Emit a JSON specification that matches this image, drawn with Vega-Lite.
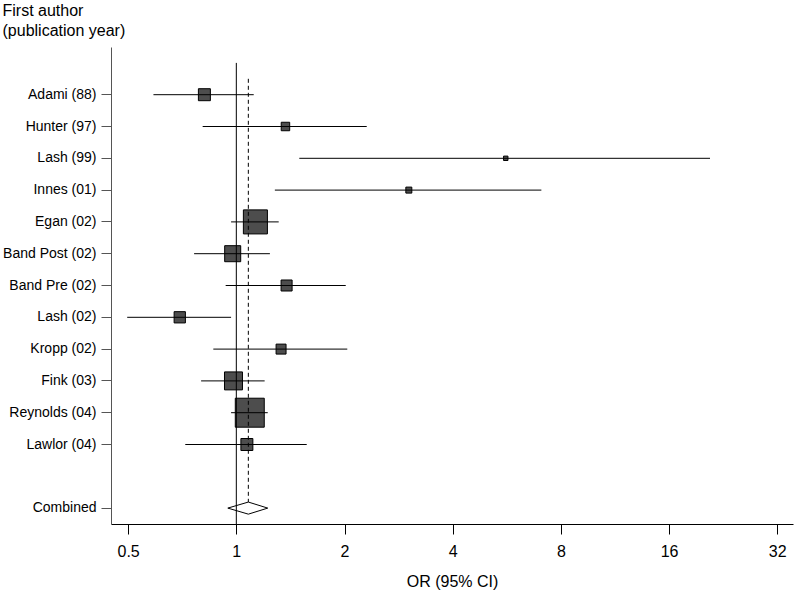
{
  "$schema": "https://vega.github.io/schema/vega-lite/v6.json",
  "width": 682,
  "height": 477,
  "autosize": {"type": "none"},
  "padding": {"left": 111, "top": 47, "right": 2, "bottom": 68},
  "background": "white",
  "config": {
    "view": {"stroke": null},
    "font": "Liberation Sans",
    "axis": {"grid": false, "labelColor": "black", "titleColor": "black", "titleFontWeight": "normal"}
  },
  "datasets": {
    "studies": [
      {"label": "Adami (88)", "or": 0.815, "lo": 0.588, "hi": 1.118, "weight": 5.2},
      {"label": "Hunter (97)", "or": 1.37, "lo": 0.806, "hi": 2.306, "weight": 2.6},
      {"label": "Lash (99)", "or": 5.62, "lo": 1.497, "hi": 20.8, "weight": 0.7},
      {"label": "Innes (01)", "or": 3.02, "lo": 1.28, "hi": 7.06, "weight": 1.3},
      {"label": "Egan (02)", "or": 1.13, "lo": 0.967, "hi": 1.312, "weight": 20.9},
      {"label": "Band Post (02)", "or": 0.977, "lo": 0.763, "hi": 1.24, "weight": 9.3},
      {"label": "Band Pre (02)", "or": 1.38, "lo": 0.934, "hi": 2.016, "weight": 4.4},
      {"label": "Lash (02)", "or": 0.696, "lo": 0.497, "hi": 0.967, "weight": 4.6},
      {"label": "Kropp (02)", "or": 1.332, "lo": 0.863, "hi": 2.036, "weight": 3.6},
      {"label": "Fink (03)", "or": 0.982, "lo": 0.798, "hi": 1.199, "weight": 11.7},
      {"label": "Reynolds (04)", "or": 1.09, "lo": 0.967, "hi": 1.223, "weight": 30.4},
      {"label": "Lawlor (04)", "or": 1.07, "lo": 0.721, "hi": 1.57, "weight": 5.2}
    ],
    "pooled": [
      {"label": "Combined", "tip": 0.947, "mid": 1.08},
      {"label": "Combined", "tip": 1.223, "mid": 1.08}
    ]
  },
  "layer": [
    {
      "data": {"name": "studies"},
      "mark": {"type": "square", "filled": true, "fill": "#4d4d4d", "stroke": "black", "strokeWidth": 1, "opacity": 1},
      "encoding": {
        "x": {
          "field": "or", "type": "quantitative",
          "scale": {"type": "log", "domain": [0.448, 35.4], "nice": false},
          "axis": {
            "values": [0.5, 1, 2, 4, 8, 16, 32],
            "format": "~g",
            "title": "OR (95% CI)",
            "titleFontSize": 16,
            "titlePadding": 14,
            "labelFontSize": 16,
            "labelPadding": 9,
            "tickSize": 10,
            "tickColor": "black",
            "domainColor": "black",
            "labelFlush": false
          }
        },
        "y": {
          "field": "label", "type": "nominal",
          "scale": {
            "type": "band",
            "domain": [" ", "Adami (88)", "Hunter (97)", "Lash (99)", "Innes (01)", "Egan (02)", "Band Post (02)", "Band Pre (02)", "Lash (02)", "Kropp (02)", "Fink (03)", "Reynolds (04)", "Lawlor (04)", "  ", "Combined"],
            "paddingInner": 0,
            "paddingOuter": 0
          },
          "axis": {
            "title": ["First author", "(publication year)"],
            "titleAngle": 0,
            "titleAlign": "left",
            "titleBaseline": "top",
            "titleX": -109,
            "titleY": -45,
            "titleFontSize": 16,
            "titleLineHeight": 20,
            "labelFontSize": 14,
            "labelPadding": 5,
            "tickSize": 10,
            "tickColor": "#555555",
            "tickOpacity": {"condition": {"test": "trim(datum.value) == ''", "value": 0}, "value": 1},
            "domainColor": "#555555"
          }
        },
        "size": {"field": "weight", "type": "quantitative", "scale": {"domain": [0, 100], "range": [0, 2762], "zero": true}, "legend": null}
      }
    },
    {
      "data": {"name": "studies"},
      "mark": {"type": "rule", "color": "black", "strokeWidth": 1},
      "encoding": {
        "x": {"field": "lo", "type": "quantitative"},
        "x2": {"field": "hi"},
        "y": {"field": "label", "type": "nominal"}
      }
    },
    {
      "data": {"values": [{}]},
      "mark": {"type": "rule", "color": "black", "strokeWidth": 1},
      "encoding": {
        "x": {"datum": 1, "type": "quantitative"},
        "y": {"datum": " ", "type": "nominal", "bandPosition": 0.5},
        "y2": {"datum": "Combined", "bandPosition": 1}
      }
    },
    {
      "data": {"name": "pooled"},
      "transform": [{"filter": "datum.tip < 1"}],
      "mark": {"type": "rule", "color": "black", "strokeWidth": 1, "strokeDash": [4, 3]},
      "encoding": {
        "x": {"field": "mid", "type": "quantitative"},
        "y": {"datum": " ", "type": "nominal", "bandPosition": 1},
        "y2": {"datum": "Combined", "bandPosition": 0.31}
      }
    },
    {
      "data": {"name": "pooled"},
      "mark": {"type": "rule", "color": "black", "strokeWidth": 1},
      "encoding": {
        "x": {"field": "tip", "type": "quantitative"},
        "x2": {"field": "mid"},
        "y": {"field": "label", "type": "nominal", "bandPosition": 0.5},
        "y2": {"field": "label", "bandPosition": 0.31}
      }
    },
    {
      "data": {"name": "pooled"},
      "mark": {"type": "rule", "color": "black", "strokeWidth": 1},
      "encoding": {
        "x": {"field": "tip", "type": "quantitative"},
        "x2": {"field": "mid"},
        "y": {"field": "label", "type": "nominal", "bandPosition": 0.5},
        "y2": {"field": "label", "bandPosition": 0.69}
      }
    }
  ]
}
